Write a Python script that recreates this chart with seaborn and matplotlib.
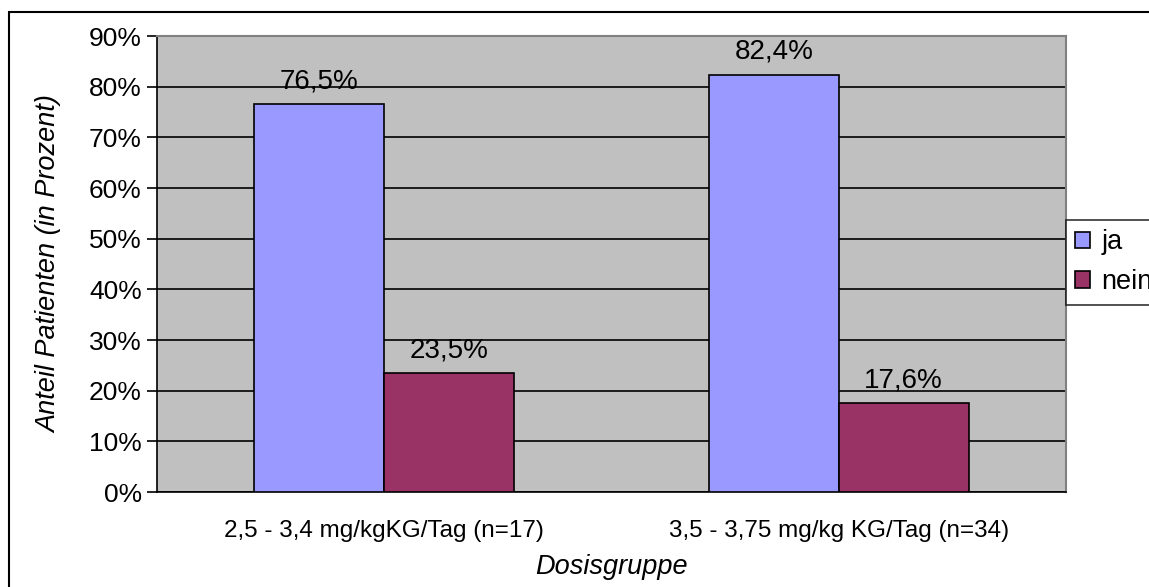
import matplotlib
matplotlib.use("Agg")
import matplotlib.pyplot as plt
import matplotlib.patches as mpatches
import seaborn as sns
import pandas as pd
import numpy as np

categories = ["2,5 - 3,4 mg/kgKG/Tag (n=17)", "3,5 - 3,75 mg/kg KG/Tag (n=34)"]
series = ["ja", "nein"]
ja_values = [76.5, 82.4]
nein_values = [23.5, 17.6]
value_labels_ja = ["76,5%", "82,4%"]
value_labels_nein = ["23,5%", "17,6%"]
yticks = [0, 10, 20, 30, 40, 50, 60, 70, 80, 90]
colors = ["#9999FF", "#993366"]

df = pd.DataFrame({
    "Dosisgruppe": categories * 2,
    "Antwort": ["ja"] * 2 + ["nein"] * 2,
    "Wert": ja_values + nein_values,
    "Label": value_labels_ja + value_labels_nein,
})

sns.set_style("white")
plt.rcParams["font.family"] = ["Liberation Sans", "DejaVu Sans"]
for k in ["text.color", "axes.labelcolor", "xtick.color", "ytick.color"]:
    plt.rcParams[k] = "black"

W, H = 1149, 587
fig = plt.figure(figsize=(W / 100, H / 100), dpi=100)
ax = fig.add_axes([157 / W, 1 - 492 / H, (1066 - 157) / W, (492 - 36) / H])

sns.barplot(data=df, x="Dosisgruppe", y="Wert", hue="Antwort", order=categories,
            hue_order=series, palette=colors, width=0.572, ax=ax,
            edgecolor="black", linewidth=1.2, saturation=1, legend=True, zorder=3)

ax.set_facecolor("#C0C0C0")
ax.set_xlim(-0.5, 1.5)
ax.set_ylim(0, 90)
ax.set_yticks(yticks)
ax.set_yticklabels([f"{v}%" for v in yticks], fontsize=19)
ax.yaxis.grid(True, color="black", linewidth=1.2, zorder=1)
ax.set_axisbelow(True)

# category ticks at boundaries
ax.set_xticks(range(len(categories)))
ax.set_xticklabels(categories, fontsize=17.5)
ax.tick_params(axis="x", which="major", length=0, pad=20)
ax.set_xticks([-0.5, 0.5, 1.5], minor=True)
ax.tick_params(axis="x", which="minor", length=7, width=1.2, direction="out", color="black")
ax.tick_params(axis="y", length=7, width=1.2, direction="out", color="black", pad=4, left=True)

for s in ["left", "bottom"]:
    ax.spines[s].set_color("black")
    ax.spines[s].set_linewidth(1.2)
for s in ["top", "right"]:
    ax.spines[s].set_color("#808080")
    ax.spines[s].set_linewidth(1.5)

for container, labels in zip(ax.containers, [value_labels_ja, value_labels_nein]):
    ax.bar_label(container, labels=labels, padding=7, fontsize=20)

ax.set_xlabel("Dosisgruppe", fontsize=19.5, style="italic", labelpad=9)
ax.set_ylabel("Anteil Patienten (in Prozent)", fontsize=19.5, style="italic", labelpad=19)

leg = ax.legend(loc="upper left", bbox_to_anchor=(1066 / W, 1 - 220 / H),
                bbox_transform=fig.transFigure, fontsize=19.5, frameon=True,
                fancybox=False, edgecolor="black", handlelength=0.55, handleheight=0.55,
                handletextpad=0.4, borderpad=0.35, labelspacing=0.5, borderaxespad=0)
leg.get_frame().set_linewidth(1.2)
for h in leg.legend_handles:
    h.set_edgecolor("black")
    h.set_linewidth(1.2)

border = mpatches.Rectangle((9 / W, -0.2), 1.5, 1 - 12 / H + 0.2, transform=fig.transFigure,
                            fill=False, edgecolor="black", linewidth=1.5, zorder=0)
fig.patches.append(border)

fig.savefig("out.png", dpi=100)
